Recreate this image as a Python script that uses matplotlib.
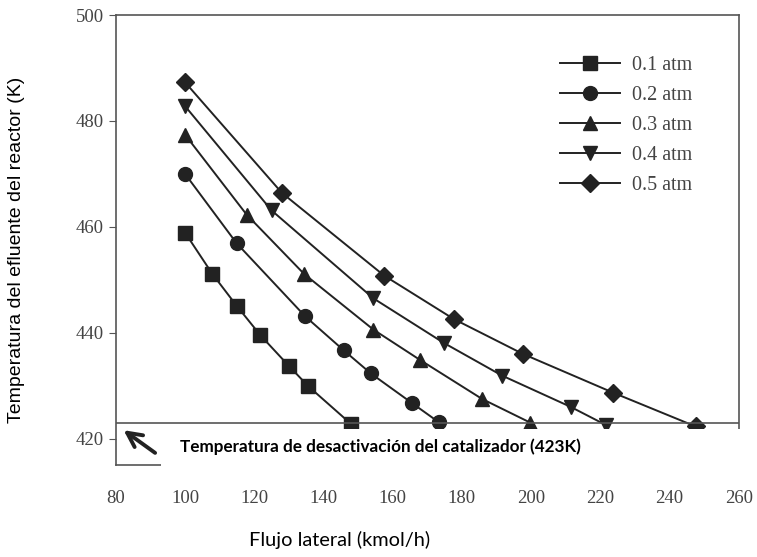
import matplotlib.pyplot as plt
from matplotlib.patches import Rectangle

x01 = [100, 107.9, 114.9, 121.8, 129.9, 135.6, 147.9]
T01 = [458.9, 451.1, 445.1, 439.5, 433.8, 429.9, 422.8]
x02 = [100, 114.9, 134.7, 145.8, 153.7, 165.6, 173.3]
T02 = [470.0, 456.9, 443.1, 436.7, 432.3, 426.7, 423.1]
x03 = [100, 117.8, 134.4, 154.4, 167.8, 185.8, 199.8]
T03 = [477.4, 462.3, 451.1, 440.6, 434.9, 427.5, 423.0]
x04 = [100, 125.0, 154.4, 174.7, 191.6, 211.4, 221.5]
T04 = [482.8, 463.1, 446.5, 438.1, 431.9, 426.0, 422.6]
x05 = [100, 128.0, 157.5, 177.6, 197.6, 223.6, 247.5]
T05 = [487.3, 466.4, 450.8, 442.6, 436.0, 428.7, 422.3]
etiquetas = ['0.1 atm', '0.2 atm', '0.3 atm', '0.4 atm', '0.5 atm']
T_desact = 423

fig = plt.figure(figsize=(7.57, 5.57), dpi=100)
ax = fig.add_axes([0.153, 0.165, 0.823, 0.808])

col = '#222222'
ax.plot(x01, T01, color=col, lw=1.4, marker='s', ms=9.5, label=etiquetas[0])
ax.plot(x02, T02, color=col, lw=1.4, marker='o', ms=10, label=etiquetas[1])
ax.plot(x03, T03, color=col, lw=1.4, marker='^', ms=10, label=etiquetas[2])
ax.plot(x04, T04, color=col, lw=1.4, marker='v', ms=10, label=etiquetas[3])
ax.plot(x05, T05, color=col, lw=1.4, marker='D', ms=9, label=etiquetas[4])

ax.axhline(T_desact, color='#555555', lw=1.2)

ax.set_xlim(80, 260)
ax.set_ylim(415, 500)
ax.set_xticks(range(80, 261, 20))
ax.set_yticks(range(420, 501, 20))
for s in ax.spines.values():
    s.set_color('#555555')
    s.set_linewidth(1.2)
ax.tick_params(axis='y', direction='out', length=5, color='#555555',
               labelsize=13.5, labelcolor='#444444')
ax.tick_params(axis='x', length=0, pad=18, labelsize=13.5, labelcolor='#444444')
for t in ax.get_xticklabels() + ax.get_yticklabels():
    t.set_family('Liberation Serif')

# caja blanca bajo la linea de 423 K
ax.add_patch(Rectangle((0.072, -0.02), 0.95, 0.1, transform=ax.transAxes,
                       facecolor='white', edgecolor='none', zorder=5, clip_on=False))
ax.text(0.103, 0.04, 'Temperatura de desactivación del catalizador (423K)',
        transform=ax.transAxes, fontsize=12.3, fontweight='bold', family='Lato',
        zorder=6, va='center')
ax.annotate('', xy=(81.6, 421.9), xytext=(92, 417.0),
            arrowprops=dict(arrowstyle='->', color='#222222', lw=2.8,
                            mutation_scale=26), zorder=6)

leg = ax.legend(loc='upper right', bbox_to_anchor=(0.955, 0.95), frameon=False,
                handlelength=3.0, handletextpad=0.6, labelspacing=0.55,
                prop={'family': 'Liberation Serif', 'size': 14.5})
for t in leg.get_texts():
    t.set_color('#444444')

fig.text(0.449, 0.03, 'Flujo lateral (kmol/h)', ha='center', va='center',
         fontsize=14.4, family='Lato')
fig.text(0.022, 0.551, 'Temperatura del efluente del reactor (K)', rotation=90,
         ha='center', va='center', fontsize=14, family='Liberation Sans')

fig.savefig('out.png', dpi=100)
